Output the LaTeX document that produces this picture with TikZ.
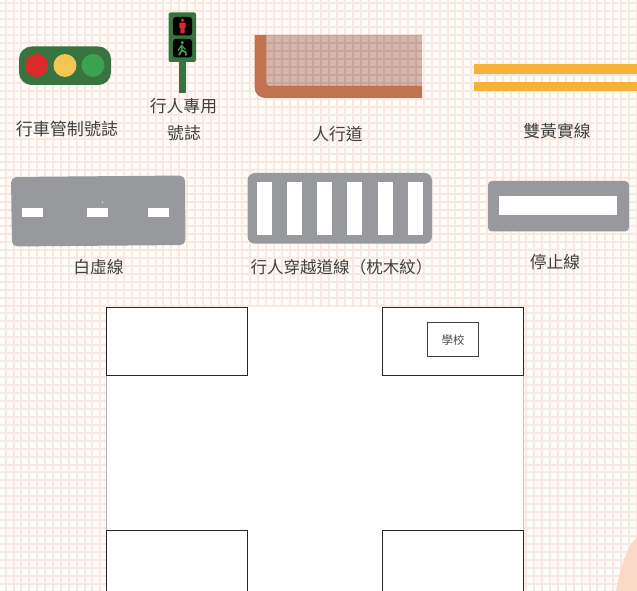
\documentclass[tikz,border=0pt]{standalone}
\usepackage{fontspec}
\setmainfont{Noto Sans CJK TC}
\definecolor{paperbg}{HTML}{FCFDF6}
\definecolor{gridline}{HTML}{FAE6E3}
\definecolor{signgreen}{HTML}{37743F}
\definecolor{lampred}{HTML}{DA2A2C}
\definecolor{lampyellow}{HTML}{F4C552}
\definecolor{lampgreen}{HTML}{3BA24F}
\definecolor{curb}{HTML}{C1724F}
\definecolor{pave}{HTML}{D6B6AC}
\definecolor{paveline}{HTML}{C8A499}
\definecolor{lineyellow}{HTML}{F6B337}
\definecolor{road}{HTML}{98999D}
\definecolor{peach}{HTML}{FBD9C8}
\definecolor{labelink}{HTML}{404040}
\newcommand{\paperlines}[1]{%
  \foreach \k in {0,...,80}{
    \pgfmathsetmacro{\gx}{round(5.7+7.89*\k)}
    \draw[#1,line width=1.5pt] (\gx,0) -- (\gx,591);
  }
  \foreach \k in {0,...,74}{
    \pgfmathsetmacro{\gy}{round(3.45+7.95*\k)}
    \draw[#1,line width=1.5pt] (0,\gy) -- (637,\gy);
  }%
}
\tikzset{
  x=0.75pt,y=-0.75pt,
  caption/.style={text=labelink,inner sep=0pt,font=\fontsize{12.6pt}{14pt}\selectfont},
  block/.style={draw=black!85,line width=0.75pt,fill=white},
  paint/.style={fill=white},
  roadbody/.style={fill=road}
}
\begin{document}
\begin{tikzpicture}
\useasboundingbox (0,0) rectangle (637,591);
% paper
\fill[paperbg] (0,0) rectangle (637,591);
\paperlines{gridline}
% vehicle signal
\fill[signgreen,rounded corners=9.5pt] (19,46.5) rectangle (111,85);
\fill[lampred] (36.5,65.5) circle[radius=8.6pt];
\fill[lampyellow] (65,65.5) circle[radius=8.6pt];
\fill[lampgreen] (93,65.5) circle[radius=8.6pt];
\node[caption,font=\fontsize{12.8pt}{14pt}\selectfont] (c1) at (67,129) {行車管制號誌};
% pedestrian signal
\fill[signgreen] (179,60) rectangle (186,93);
\fill[signgreen,rounded corners=1.5pt] (168.5,12.5) rectangle (196,62);
\fill[black,rounded corners=2pt] (173,17) rectangle (192,35.5);
\fill[black,rounded corners=2pt] (173,39) rectangle (192,57.5);
\fill[lampred] (182.5,20.3) circle[radius=1.4pt];
\fill[lampred] (179.3,22.6) -- (185.7,22.6) -- (185.7,28) -- (184.7,28) -- (184.7,33.5) -- (180.3,33.5) -- (180.3,28) -- (179.3,28) -- cycle;
\fill[lampgreen] (182.2,42.6) circle[radius=1.3pt];
\draw[lampgreen,line width=1.3pt,line join=round] (181.5,45) -- (181.8,50.5) -- (179,55.2);
\draw[lampgreen,line width=1.3pt,line join=round] (181.8,50.5) -- (185.6,52) -- (186,55.5);
\draw[lampgreen,line width=0.9pt,line join=round] (178,50.5) -- (181.5,45.5) -- (185.5,49.5);
\node[caption] (c2a) at (183.5,106) {行人專用};
\node[caption] (c2b) at (184,133) {號誌};
% sidewalk
\begin{scope}
  \clip (266,35) [rounded corners=3pt] -- (266,86) [sharp corners] -- (422,86) -- (422,35) -- cycle;
  \fill[pave] (266,35) rectangle (422,86);
  \paperlines{paveline}
\end{scope}
\fill[curb] (254.5,35) -- (266,35) [rounded corners=3pt] -- (266,86) [sharp corners] -- (422,86) -- (422,98) [rounded corners=8pt] -- (254.5,98) [sharp corners] -- cycle;
\node[caption] (c3) at (337.5,134) {人行道};
% double yellow
\fill[lineyellow] (474,64.4) rectangle (637,73.8);
\fill[lineyellow] (474,82.4) rectangle (637,91);
\node[caption] (c4) at (557,131.5) {雙黃實線};
% white dashed line
\fill[roadbody,rounded corners=4pt] (11,177) -- (185,175.5) -- (185.5,245) -- (12,246.5) -- cycle;
\fill[paint] (22,208) rectangle (43,217);
\fill[paint] (86.5,208) rectangle (107.5,217);
\fill[paint] (148,208) rectangle (169,217);
\fill[paint] (102.5,202.3) circle[radius=0.5pt];
\node[caption] (c5) at (98.5,267) {白虛線};
% crosswalk
\fill[roadbody,rounded corners=5.5pt] (247.5,173) rectangle (432,243.7);
\foreach \sx/\ex in {256.7/272,287/302,317/332,347/362.3,377.7/393,407.7/423}{
  \fill[paint] (\sx,181.7) rectangle (\ex,235);
}
\node[caption,font=\fontsize{12.4pt}{14pt}\selectfont] (c6) at (341.5,267) {行人穿越道線（枕木紋）};
% stop line
\fill[roadbody,rounded corners=3pt] (488,181) rectangle (629,231.5);
\fill[paint] (499,196) rectangle (617,215);
\node[caption] (c7) at (555,262) {停止線};
% map
\fill[white] (106,307) rectangle (523,591);
\draw[black!30,line width=0.75pt] (106.5,376) -- (106.5,530);
\draw[black!22,line width=0.9pt] (523.5,376) -- (523.5,530);
\draw[block] (106.5,307.5) rectangle (247,376);
\draw[block] (382,307.5) rectangle (523,376);
\draw[block] (106.5,591.5) -- (106.5,530.5) -- (247,530.5) -- (247,591.5);
\draw[block] (382,591.5) -- (382,530.5) -- (523,530.5) -- (523,591.5);
\draw[block,draw=black!75] (427,322.5) rectangle (478,356.5);
\node[text=black!70,inner sep=0pt,font=\fontsize{8.6pt}{10pt}\selectfont] (school) at (453,340) {學校};
% corner shape
\fill[peach] (616,591) .. controls (620,570) and (626,548) .. (637,537) -- (637,591) -- cycle;
\end{tikzpicture}
\end{document}
